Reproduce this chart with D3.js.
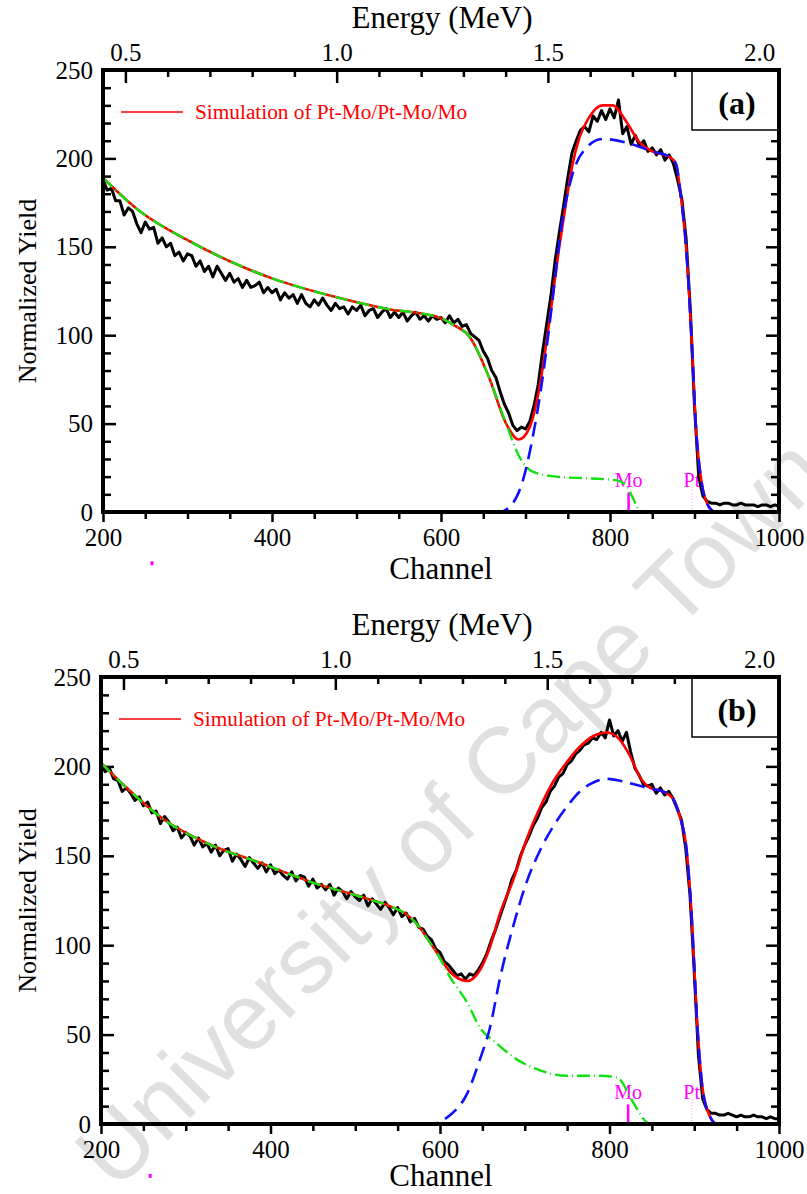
<!DOCTYPE html>
<html>
<head>
  <meta charset="utf-8">
  <title>RBS spectra Pt-Mo/Pt-Mo/Mo</title>
  <script src="https://d3js.org/d3.v7.min.js"></script>
  <style>
    body { margin: 0; background: #fff; }
  </style>
</head>
<body>
<svg id="chart" width="807" height="1194"></svg>
<script>
const SERIF = "'Liberation Serif', 'Times New Roman', Times, serif";

// ---- tick labels / axis values ----
const channelMajor = [200, 400, 600, 800, 1000];
const channelMinor = [250, 300, 350, 450, 500, 550, 650, 700, 750, 850, 900, 950];
const yieldMajor = [0, 50, 100, 150, 200, 250];
const yieldMinor = d3.range(10, 250, 10).filter(v => v % 50 !== 0);
const energyMajor = [0.5, 1.0, 1.5, 2.0];
const energyMinor = [0.6, 0.7, 0.8, 0.9, 1.1, 1.2, 1.3, 1.4, 1.6, 1.7, 1.8, 1.9];
const energyDomain = [0.447, 2.047];

// ---- measured spectra: one value every 5 channels from 200 to 1000 ----
const chStart = 200, chStep = 5;
const expA = [
  188,182,183,176,176,168,172,170,163,158,
  164,160,161,152,155,150,152,145,147,142,
  146,145,139,142,136,139,133,139,135,131,
  135,130,132,127,131,127,128,130,124,127,
  124,126,120,124,121,123,118,123,118,116,
  120,117,121,117,114,118,115,116,112,116,
  114,117,111,114,115,110,113,115,110,113,
  110,113,108,111,113,109,111,108,111,109,
  110,107,111,107,109,105,106,101,99,97,
  91,87,80,76,68,61,56,49,46,48,
  47,51,60,72,90,106,122,142,158,173,
  189,203,210,216,218,215,224,221,227,222,
  228,223,233,214,218,208,213,207,210,204,
  206,202,205,199,202,197,188,177,155,115,
  60,20,9,6,5,5,4,5,5,4,
  4,5,4,4,4,3,4,4,3,4,
  3
];
const expB = [
  201,197,199,193,192,186,188,185,181,183,
  178,180,174,175,168,172,169,164,166,160,
  163,161,156,160,155,157,152,156,150,153,
  154,147,151,148,144,149,146,143,146,141,
  145,140,142,139,137,141,136,139,138,133,
  137,132,134,131,134,128,132,130,126,130,
  127,125,128,122,126,123,120,124,121,117,
  121,116,118,113,115,110,109,105,103,98,
  96,91,89,86,83,84,81,84,83,86,
  90,95,102,108,115,122,129,137,142,150,
  156,161,167,171,177,180,186,189,194,196,
  201,203,207,209,212,213,216,215,219,216,
  226,217,220,214,219,208,199,195,190,189,
  190,185,188,184,186,182,176,170,154,128,
  85,38,14,8,6,6,5,5,6,5,
  4,5,4,4,5,4,4,3,4,3,
  3
];

// ---- simulation curves [channel, yield] ----
const simA = [[200,189],[244,170],[299,154],[354,141],[401,132],[472,122],[535,115],[598,110],[614,106],[634,99],[657,76],[677,50],[692,41],[705,48],[716,69],[728,107],[740,150],[748,175],[755,195],[764,212],[775,223],[791,230],[803,230],[819,221],[835,209],[850,204],[870,201],[878,197],[884,178],[890,150],[896,103],[902,46],[908,18],[917,3],[925,0],[1000,0]];
const moA = [[200,189],[244,170],[299,154],[354,141],[401,132],[472,122],[535,115],[598,110],[614,106],[634,99],[657,76],[677,50],[693,31],[708,23],[736,20],[775,19],[807,18],[819,15],[826,9],[835,1],[842,0],[1000,0]];
const ptA = [[200,0],[669,0],[685,5],[697,18],[708,41],[720,75],[732,120],[743,163],[755,190],[772,206],[791,211],[819,209],[850,204],[870,201],[878,197],[884,178],[890,150],[896,103],[902,46],[908,18],[917,3],[925,0],[1000,0]];

const simB = [[200,202],[228,189],[275,170],[325,157],[388,146],[450,135],[514,126],[545,121],[561,117],[576,110],[586,103],[596,96],[612,85],[632,80],[647,86],[659,99],[671,118],[686,136],[702,159],[718,177],[733,191],[749,202],[765,211],[781,217],[797,219],[812,215],[824,206],[836,194],[848,188],[863,186],[875,182],[883,172],[891,153],[897,116],[903,60],[909,23],[916,7],[927,0],[1000,0]];
const moB = [[200,202],[228,189],[275,170],[325,157],[388,146],[450,135],[514,126],[545,121],[561,117],[576,110],[586,103],[596,96],[612,82],[632,68],[647,54],[667,45],[691,36],[718,30],[749,27],[789,27],[809,26],[828,12],[844,1],[852,0],[1000,0]];
const ptB = [[200,0],[588,0],[612,5],[632,17],[647,36],[659,54],[671,82],[686,110],[702,135],[718,153],[733,166],[749,177],[765,186],[781,191],[797,193],[821,191],[844,188],[868,185],[875,182],[883,172],[891,153],[897,116],[903,60],[909,23],[916,7],[927,0],[1000,0]];

// edge markers
const edges = [{ name: "Mo", ch: 822, line: 11, solid: true }, { name: "Pt", ch: 897, line: 14, solid: false }];
const strayDot = { ch: 258, v: -29 };

const svg = d3.select("#chart");
svg.append("rect").attr("width", 807).attr("height", 1194).attr("fill", "#fff");

// watermark behind everything
svg.append("text")
  .attr("transform", "translate(450,812) rotate(-45)")
  .attr("text-anchor", "middle")
  .attr("dominant-baseline", "central")
  .style("font-family", "'Liberation Sans', Arial, sans-serif")
  .style("font-size", "94px")
  .attr("fill", "#e0e0e0")
  .text("University of Cape Town");

function drawPanel(p) {
  const g = svg.append("g");
  const x = d3.scaleLinear().domain([200, 1000]).range([p.left, p.right]);
  const y = d3.scaleLinear().domain([0, 250]).range([p.bottom, p.top]);
  const e = d3.scaleLinear().domain(energyDomain).range([p.left, p.right]);

  const clipId = "clip" + p.tag;
  g.append("clipPath").attr("id", clipId).append("rect")
    .attr("x", p.left).attr("y", p.top)
    .attr("width", p.right - p.left).attr("height", p.bottom - p.top);

  // axes
  const styleAxis = sel => {
    sel.attr("font-family", null);
    sel.select(".domain").remove();
    sel.selectAll("line").attr("stroke", "#000").attr("stroke-width", 2.5);
    sel.selectAll("text").style("font-family", SERIF).style("font-size", "25px").attr("fill", "#000");
  };
  g.append("g").attr("transform", `translate(${p.left},0)`)
    .call(d3.axisLeft(y).tickValues(yieldMajor).tickSize(-13).tickPadding(10)).call(styleAxis);
  g.append("g").attr("transform", `translate(${p.left},0)`)
    .call(d3.axisLeft(y).tickValues(yieldMinor).tickSize(-8).tickFormat("")).call(styleAxis);
  g.append("g").attr("transform", `translate(${p.right},0)`)
    .call(d3.axisRight(y).tickValues(yieldMajor).tickSize(-13).tickFormat("")).call(styleAxis);
  g.append("g").attr("transform", `translate(${p.right},0)`)
    .call(d3.axisRight(y).tickValues(yieldMinor).tickSize(-8).tickFormat("")).call(styleAxis);
  g.append("g").attr("transform", `translate(0,${p.bottom})`)
    .call(d3.axisBottom(x).tickValues(channelMajor).tickSize(10).tickPadding(6).tickFormat(d3.format("d"))).call(styleAxis);
  g.append("g").attr("transform", `translate(0,${p.bottom})`)
    .call(d3.axisBottom(x).tickValues(channelMinor).tickSize(7).tickFormat("")).call(styleAxis);
  g.append("g").attr("transform", `translate(0,${p.top})`)
    .call(d3.axisTop(e).tickValues(energyMajor).tickSize(-13).tickPadding(9).tickFormat(d3.format(".1f"))).call(styleAxis);
  g.append("g").attr("transform", `translate(0,${p.top})`)
    .call(d3.axisTop(e).tickValues(energyMinor).tickSize(-7).tickFormat("")).call(styleAxis);

  // axis titles
  g.append("text").attr("x", 442).attr("y", p.top - 42).attr("text-anchor", "middle")
    .style("font-family", SERIF).style("font-size", "31px").text("Energy (MeV)");
  g.append("text").attr("x", 441).attr("y", p.bottom + p.chanGap).attr("text-anchor", "middle")
    .style("font-family", SERIF).style("font-size", "31px").text("Channel");
  g.append("text").attr("transform", `translate(36,${(p.top + p.bottom) / 2}) rotate(-90)`)
    .attr("text-anchor", "middle").style("font-family", SERIF).style("font-size", "26px").text("Normalized Yield");

  // element edge markers
  const eg = g.append("g");
  edges.forEach(m => {
    eg.append("text").attr("x", x(m.ch)).attr("y", y(14)).attr("text-anchor", "middle")
      .style("font-family", SERIF).style("font-size", "20px").attr("fill", "#ff00ff").text(m.name);
    eg.append("line").attr("x1", x(m.ch)).attr("x2", x(m.ch)).attr("y1", y(0)).attr("y2", y(m.line))
      .attr("stroke", m.solid ? "#ff00ff" : "#ff99ff")
      .attr("stroke-width", m.solid ? 2.5 : 1)
      .attr("stroke-dasharray", m.solid ? null : "1,2");
  });
  g.append("rect").attr("x", x(strayDot.ch) - 1.5).attr("y", y(strayDot.v) - 2)
    .attr("width", 3).attr("height", 4).attr("fill", "#ff00ff");

  // curves
  const plot = g.append("g").attr("clip-path", `url(#${clipId})`);
  const lineExp = d3.line().x((d, i) => x(chStart + i * chStep)).y(d => y(d));
  const lineSim = d3.line().x(d => x(d[0])).y(d => y(d[1])).curve(d3.curveMonotoneX);

  plot.append("path").datum(p.exp).attr("d", lineExp)
    .attr("fill", "none").attr("stroke", "#000").attr("stroke-width", 3).attr("stroke-linejoin", "round");
  plot.append("path").datum(p.sim).attr("d", lineSim)
    .attr("fill", "none").attr("stroke", "#ff0000").attr("stroke-width", 2.6);
  plot.append("path").datum(p.mo).attr("d", lineSim)
    .attr("fill", "none").attr("stroke", "#11e011").attr("stroke-width", 2.4)
    .attr("stroke-dasharray", "13,4,1,4");
  plot.append("path").datum(p.pt).attr("d", lineSim)
    .attr("fill", "none").attr("stroke", "#1010ff").attr("stroke-width", 2.6)
    .attr("stroke-dasharray", "15,8");

  // legend
  g.append("line").attr("x1", p.left + 18).attr("x2", p.left + 80)
    .attr("y1", p.top + 42).attr("y2", p.top + 42)
    .attr("stroke", "#ff0000").attr("stroke-width", 1.5);
  g.append("text").attr("x", p.left + 92).attr("y", p.top + 49)
    .style("font-family", SERIF).style("font-size", "21.3px").attr("fill", "#ff0000")
    .text("Simulation of Pt-Mo/Pt-Mo/Mo");

  // panel label box
  g.append("rect").attr("x", 692).attr("y", p.top).attr("width", p.right - 692).attr("height", 60)
    .attr("fill", "#fff").attr("stroke", "#000").attr("stroke-width", 1.5);
  g.append("text").attr("x", 737).attr("y", p.top + 44).attr("text-anchor", "middle")
    .style("font-family", SERIF).style("font-size", "32px").style("font-weight", "bold").text(p.label);

  // frame
  g.append("rect").attr("x", p.left).attr("y", p.top)
    .attr("width", p.right - p.left).attr("height", p.bottom - p.top)
    .attr("fill", "none").attr("stroke", "#000").attr("stroke-width", 4);
}

drawPanel({ tag: "a", left: 103, right: 779, top: 70, bottom: 512, chanGap: 67, exp: expA, sim: simA, mo: moA, pt: ptA, label: "(a)" });
drawPanel({ tag: "b", left: 101, right: 779, top: 677, bottom: 1124, chanGap: 62, exp: expB, sim: simB, mo: moB, pt: ptB, label: "(b)" });
</script>
</body>
</html>
